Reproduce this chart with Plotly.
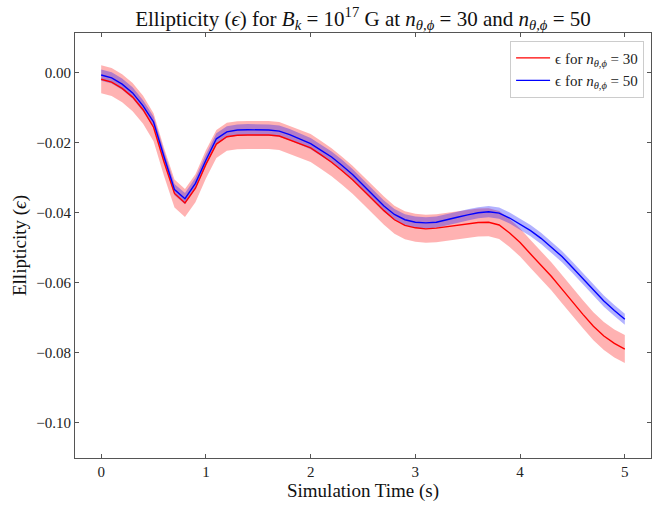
import plotly.graph_objects as go

time_s = [round(i * 0.1, 1) for i in range(51)]

eps_n30 = [-0.0019, -0.0027, -0.0045, -0.0070, -0.0106, -0.0156, -0.0255, -0.0345, -0.0372, -0.0330,
           -0.0262, -0.0204, -0.0183, -0.0179, -0.0178, -0.0178, -0.0178, -0.0181, -0.0192, -0.0202,
           -0.0215, -0.0235, -0.0256, -0.0280, -0.0306, -0.0335, -0.0365, -0.0394, -0.0420, -0.0436,
           -0.0443, -0.0446, -0.0444, -0.0440, -0.0436, -0.0431, -0.0428, -0.0427, -0.0435, -0.0458,
           -0.0485, -0.0518, -0.0550, -0.0582, -0.0618, -0.0655, -0.0690, -0.0724, -0.0752, -0.0773,
           -0.0789]

eps_n50 = [-0.0007, -0.0015, -0.0033, -0.0058, -0.0095, -0.0141, -0.0240, -0.0334, -0.0360, -0.0316,
           -0.0250, -0.0189, -0.0169, -0.0164, -0.0163, -0.0163, -0.0164, -0.0167, -0.0177, -0.0190,
           -0.0203, -0.0222, -0.0241, -0.0265, -0.0291, -0.0321, -0.0351, -0.0381, -0.0405, -0.0420,
           -0.0427, -0.0429, -0.0427, -0.0421, -0.0413, -0.0406, -0.0400, -0.0397, -0.0401, -0.0415,
           -0.0434, -0.0451, -0.0473, -0.0498, -0.0525, -0.0556, -0.0588, -0.0620, -0.0652, -0.0679,
           -0.0704]

err_n30 = 0.004
err_n50 = 0.0016

x_ticks = [0, 1, 2, 3, 4, 5]
y_ticks = [0.00, -0.02, -0.04, -0.06, -0.08, -0.10]

FONT = "Liberation Serif"
sub = "<i>n</i><sub><i>θ,ϕ</i></sub>"

fig = go.Figure()

def band(y, err, color):
    up = [v + err for v in y]
    lo = [v - err for v in y]
    fig.add_trace(go.Scatter(x=time_s, y=up, mode="lines", line=dict(width=0), hoverinfo="skip",
                             showlegend=False))
    fig.add_trace(go.Scatter(x=time_s, y=lo, mode="lines", line=dict(width=0), fill="tonexty",
                             fillcolor=color, hoverinfo="skip", showlegend=False))

band(eps_n30, err_n30, "rgba(255,0,0,0.3)")
band(eps_n50, err_n50, "rgba(0,0,255,0.3)")

fig.add_trace(go.Scatter(x=time_s, y=eps_n30, mode="lines", line=dict(color="red", width=1.4),
                         name="ϵ for " + sub + " = 30"))
fig.add_trace(go.Scatter(x=time_s, y=eps_n50, mode="lines", line=dict(color="blue", width=1.4),
                         name="ϵ for " + sub + " = 50"))

axis_common = dict(showline=True, linecolor="#555", linewidth=1, mirror="allticks",
                   ticks="inside", ticklen=4, tickcolor="#555", showgrid=False, zeroline=False,
                   tickfont=dict(family=FONT, size=15, color="#222"))

fig.update_layout(
    width=662, height=506,
    margin=dict(l=75, r=10, t=33, b=43),
    paper_bgcolor="white", plot_bgcolor="white",
    font=dict(family=FONT, color="#111"),
    title=dict(text="Ellipticity (<i>ϵ</i>) for <i>B<sub>k</sub></i> = 10<sup>17</sup> G at "
                    + sub + " = 30 and " + sub + " = 50",
               x=0.5, xref="paper", xanchor="center", y=1, yref="paper", yanchor="bottom",
               pad=dict(b=7),
               font=dict(family=FONT, size=21, color="#111")),
    xaxis=dict(range=[-0.25, 5.25], tickvals=x_ticks, ticktext=[str(v) for v in x_ticks],
               title=dict(text="Simulation Time (s)", font=dict(family=FONT, size=19), standoff=3),
               **axis_common),
    yaxis=dict(range=[-0.11, 0.0113], tickvals=y_ticks, tickformat=".2f",
               title=dict(text="Ellipticity (<i>ϵ</i>)", font=dict(family=FONT, size=19), standoff=4),
               **axis_common),
    legend=dict(x=0.988, y=0.982, xanchor="right", yanchor="top", bgcolor="rgba(255,255,255,0.8)",
                bordercolor="#ccc", borderwidth=1, font=dict(family=FONT, size=15, color="#222"),
                itemwidth=34, traceorder="normal"),
    showlegend=True,
)

fig.write_html("out.html")
